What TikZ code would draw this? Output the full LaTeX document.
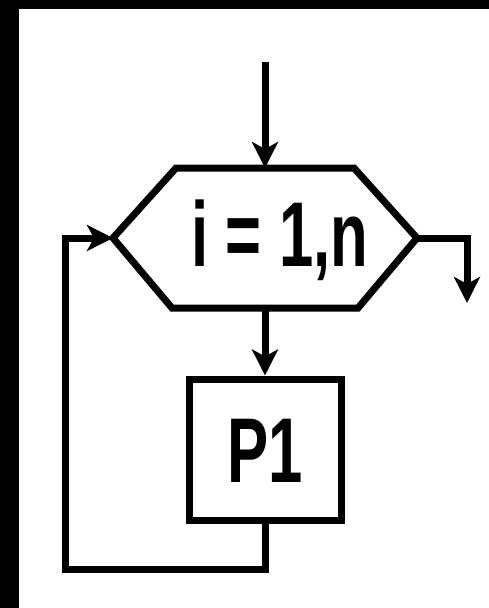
\documentclass[tikz,border=0pt]{standalone}
\usepackage{fontspec}
\setmainfont{Liberation Sans}
\usetikzlibrary{arrows.meta}
\tikzset{
  flow/.style={line width=7pt, -{Stealth[length=26pt,width=26pt,inset=7pt]}},
  wire/.style={line width=7pt},
  procbox/.style={draw, line width=7pt, rectangle, minimum width=152pt, minimum height=141pt, inner sep=0pt},
  label/.style={font=\bfseries\fontsize{92}{92}\selectfont, inner sep=0pt}
}
\begin{document}
\begin{tikzpicture}[x=1pt,y=-1pt]
  \useasboundingbox (0,0) rectangle (489,608);
  % frame strips
  \fill[black] (0,0) rectangle (489,9);
  \fill[black] (0,0) rectangle (19,608);

  % loop header (hexagon)
  \coordinate (hl) at (113,238);
  \coordinate (hr) at (417,238);
  \coordinate (htop) at (265,168);
  \coordinate (hbot) at (265,308);
  \draw[wire, line join=miter] (hl) -- (176,168) -- (354,168) -- (hr)
        -- (358,308) -- (172,308) -- cycle;
  \node[label] (cond) at (280,240) {\scalebox{0.67}[1]{i = 1,n}};

  % loop body
  \node[procbox] (body) at (265,449.5) {};
  \node[label] (p1) at (265,451) {\scalebox{0.67}[1]{P1}};

  % connectors
  \coordinate (entry) at (265,62);
  \coordinate (exit) at (467,303);
  \coordinate (ret) at (65,569);
  \draw[flow] (entry) -- (htop);
  \draw[flow] (hr) -- (467,238) -- (exit);
  \draw[flow] (hbot) -- (body.north);
  \draw[flow, line join=miter] (body.south) |- (ret) |- (hl);
\end{tikzpicture}
\end{document}
